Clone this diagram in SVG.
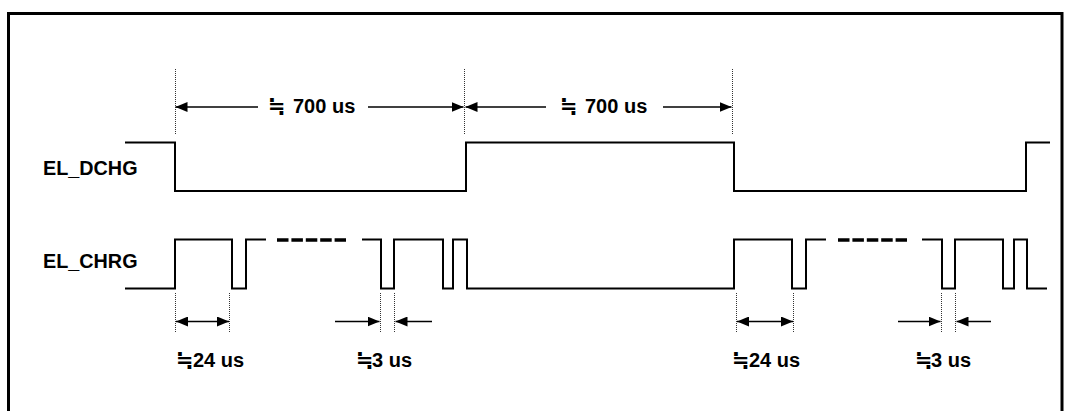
<svg xmlns="http://www.w3.org/2000/svg" width="1068" height="411" viewBox="0 0 1068 411">
<style>
.sig{fill:none;stroke:#000;stroke-width:2}
.dash{fill:none;stroke:#000;stroke-width:3.5;stroke-dasharray:11.5 2.9}
.dot{fill:none;stroke:#333;stroke-width:1;stroke-dasharray:1 1}
.arr{fill:none;stroke:#000;stroke-width:1.5}
.lbl{font-family:"Liberation Sans",Arial,sans-serif;font-weight:bold;font-size:19.8px;fill:#000}
.ann{font-family:"Liberation Sans",Arial,sans-serif;font-weight:bold;font-size:20px;fill:#000}
.sym{font-family:"DejaVu Sans",sans-serif;font-weight:bold;font-size:21px}
</style>
<defs>
<marker id="ah" viewBox="0 0 12 10" refX="12" refY="5" markerWidth="12" markerHeight="10" markerUnits="userSpaceOnUse" orient="auto-start-reverse">
<path d="M0 0 L12 5 L0 10 Z" fill="#000"/>
</marker>
</defs>
<rect x="0" y="0" width="1068" height="411" fill="#fff"/>
<rect id="frame" x="8.5" y="13.5" width="1053.5" height="420" fill="none" stroke="#000" stroke-width="3"/>
<g id="EL_DCHG">
<text class="lbl" x="43" y="175">EL_DCHG</text>
<path class="sig" d="M125 142.5 H175 V191 H466 V142.5 H734 V191 H1026 V142.5 H1050"/>
</g>
<g id="EL_CHRG">
<text class="lbl" x="43" y="268">EL_CHRG</text>
<path class="sig" d="M125 288.5 H175 V239.5 H232 V288.5 H246 V239.5 H266"/>
<path class="dash" d="M277 240 H346"/>
<path class="sig" d="M362 239.5 H381 V288.5 H394 V239.5 H443 V288.5 H453 V239.5 H467 V288.5 H734 V239.5 H792 V288.5 H806 V239.5 H826"/>
<path class="dash" d="M838 240 H907"/>
<path class="sig" d="M922 239.5 H942 V288.5 H955 V239.5 H1003 V288.5 H1014 V239.5 H1027 V288.5 H1047"/>
</g>
<g id="guides">
<path class="dot" d="M175.5 69 V134 M464.5 69 V134 M732.5 69 V134"/>
<path class="dot" d="M175.5 293 V332 M229.5 293 V332 M380.5 293 V332 M394.5 293 V332"/>
<path class="dot" d="M736.5 293 V332 M793.5 293 V332 M941.5 293 V332 M955.5 293 V332"/>
</g>
<g id="connectors">
<line class="arr" x1="258" y1="107" x2="175.5" y2="107" marker-end="url(#ah)"/>
<line class="arr" x1="368" y1="107" x2="463.5" y2="107" marker-end="url(#ah)"/>
<line class="arr" x1="546" y1="107" x2="465.5" y2="107" marker-end="url(#ah)"/>
<line class="arr" x1="663" y1="107" x2="731.5" y2="107" marker-end="url(#ah)"/>
<line class="arr" x1="176" y1="321.5" x2="229" y2="321.5" marker-start="url(#ah)" marker-end="url(#ah)"/>
<line class="arr" x1="335" y1="321.5" x2="379.5" y2="321.5" marker-end="url(#ah)"/>
<line class="arr" x1="432" y1="321.5" x2="395.5" y2="321.5" marker-end="url(#ah)"/>
<line class="arr" x1="737" y1="321.5" x2="793" y2="321.5" marker-start="url(#ah)" marker-end="url(#ah)"/>
<line class="arr" x1="898" y1="321.5" x2="940.5" y2="321.5" marker-end="url(#ah)"/>
<line class="arr" x1="991" y1="321.5" x2="956.5" y2="321.5" marker-end="url(#ah)"/>
</g>
<g id="labels">
<text class="ann" x="268" y="113"><tspan class="sym">≒</tspan><tspan x="293">700 us</tspan></text>
<text class="ann" x="560" y="113"><tspan class="sym">≒</tspan><tspan x="585">700 us</tspan></text>
<text class="ann" x="176" y="367"><tspan class="sym">≒</tspan><tspan x="193">24 us</tspan></text>
<text class="ann" x="356" y="367"><tspan class="sym">≒</tspan><tspan x="372">3 us</tspan></text>
<text class="ann" x="732" y="367"><tspan class="sym">≒</tspan><tspan x="749">24 us</tspan></text>
<text class="ann" x="915" y="367"><tspan class="sym">≒</tspan><tspan x="931">3 us</tspan></text>
</g>
</svg>
